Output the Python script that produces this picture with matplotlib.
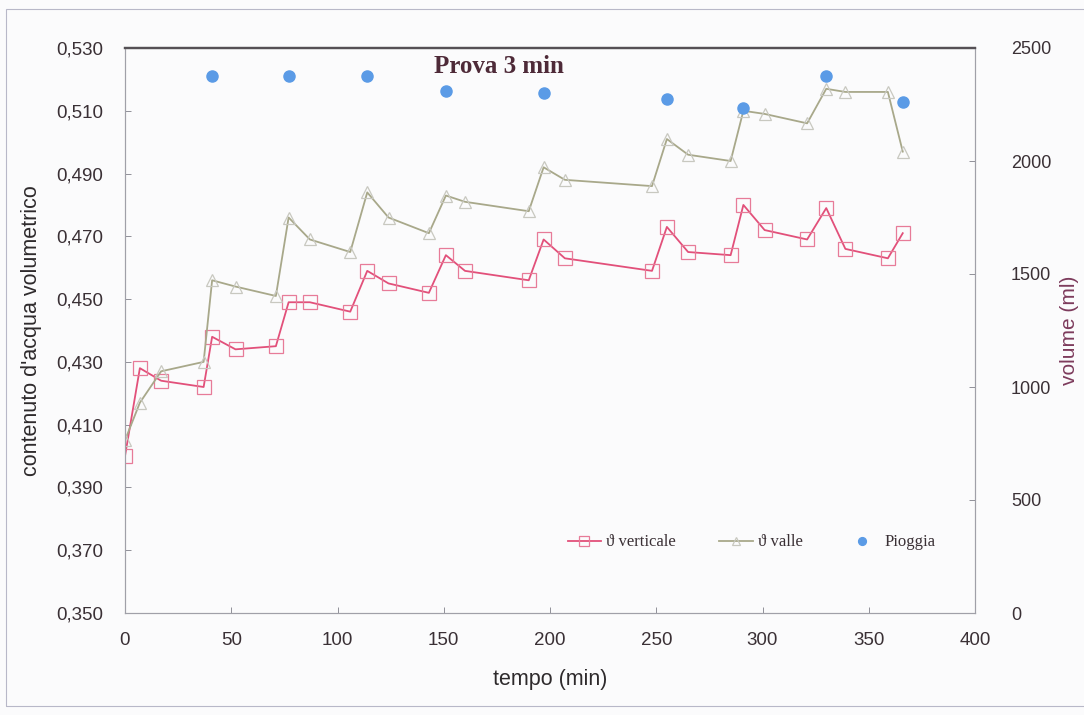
import matplotlib
matplotlib.use("Agg")
import matplotlib.pyplot as plt
from matplotlib.ticker import FuncFormatter
from matplotlib.patches import Rectangle

# ---- data ----
tempo = [0, 7, 17, 37, 41, 52, 71, 77, 87, 106, 114, 124, 143, 151, 160, 190,
         197, 207, 248, 255, 265, 285, 291, 301, 321, 330, 339, 359, 366]
theta_verticale = [0.400, 0.428, 0.424, 0.422, 0.438, 0.434, 0.435, 0.449, 0.449,
                   0.446, 0.459, 0.455, 0.452, 0.464, 0.459, 0.456, 0.469, 0.463,
                   0.459, 0.473, 0.465, 0.464, 0.480, 0.472, 0.469, 0.479, 0.466,
                   0.463, 0.471]
theta_valle = [0.405, 0.417, 0.427, 0.430, 0.456, 0.454, 0.451, 0.476, 0.469,
               0.465, 0.484, 0.476, 0.471, 0.483, 0.481, 0.478, 0.492, 0.488,
               0.486, 0.501, 0.496, 0.494, 0.510, 0.509, 0.506, 0.517, 0.516,
               0.516, 0.497]
tempo_pioggia = [41, 77, 114, 151, 197, 255, 291, 330, 366]
pioggia = [2375, 2375, 2375, 2310, 2300, 2275, 2235, 2375, 2260]

left_ticks = [0.350, 0.370, 0.390, 0.410, 0.430, 0.450, 0.470, 0.490, 0.510, 0.530]
right_ticks = [0, 500, 1000, 1500, 2000, 2500]
x_ticks = [0, 50, 100, 150, 200, 250, 300, 350, 400]

title = "Prova 3 min"
xlabel = "tempo (min)"
ylabel_left = "contenuto d'acqua volumetrico"
ylabel_right = "volume (ml)"
labels = ["\u03d1 verticale", "\u03d1 valle", "Pioggia"]

# ---- style ----
W, H = 1084, 715
fig = plt.figure(figsize=(W / 100, H / 100), dpi=100)
fig.patch.set_facecolor("#fbfbfc")
fig.patches.append(Rectangle((6 / W, 1 - 706 / H), (1100 - 6) / W, (706 - 9) / H,
                             transform=fig.transFigure, fill=False,
                             edgecolor="#b8b8c8", linewidth=0.8))

L, R, T, B = 125, 975, 48, 613
ax = fig.add_axes([L / W, 1 - B / H, (R - L) / W, (B - T) / H])
ax.set_facecolor("#fbfbfc")

tick_color = "#3a3035"
sans = ["Liberation Sans", "DejaVu Sans"]
serif = ["Liberation Serif", "DejaVu Serif"]

red = "#e2507a"
green = "#a8a88a"
blue = "#5b9be6"

l1, = ax.plot(tempo, theta_verticale, color=red, linewidth=1.3, marker="s",
              markersize=9.5, markerfacecolor="none", markeredgecolor="#e77b98",
              markeredgewidth=0.9, label=labels[0], zorder=3)
l2, = ax.plot(tempo, theta_valle, color=green, linewidth=1.3, marker="^",
              markersize=8.5, markerfacecolor="none", markeredgecolor="#c8c8c0",
              markeredgewidth=0.9, label=labels[1], zorder=3)

ax.set_xlim(0, 400)
ax.set_ylim(0.350, 0.530)
ax.set_xticks(x_ticks)
ax.set_yticks(left_ticks)
ax.yaxis.set_major_formatter(FuncFormatter(lambda v, p: f"{v:.3f}".replace(".", ",")))

ax2 = ax.twinx()
l3, = ax2.plot(tempo_pioggia, pioggia, linestyle="none", marker="o", markersize=8,
               color=blue, label=labels[2], zorder=4)
ax2.set_ylim(0, 2500)
ax2.set_yticks(right_ticks)

for a in (ax, ax2):
    for s in a.spines.values():
        s.set_color("#a0a0a8")
        s.set_linewidth(0.8)
    a.spines["top"].set_color("#555055")
    a.spines["top"].set_linewidth(1.6)
ax.spines["left"].set_linestyle((0, (1, 1)))
ax.spines["bottom"].set_linestyle((0, (1, 1)))

ax.tick_params(axis="both", direction="in", length=4, width=0.7, color="#909098",
               labelcolor=tick_color, labelsize=13.5)
ax.tick_params(axis="y", pad=16)
ax.tick_params(axis="x", pad=14)
ax2.tick_params(axis="y", direction="in", length=4, width=0.7, color="#909098",
                labelcolor=tick_color, labelsize=13, pad=26)
for lab in ax.get_xticklabels() + ax.get_yticklabels() + ax2.get_yticklabels():
    lab.set_fontfamily(sans)

ax.set_xlabel(xlabel, fontsize=15.5, color="#2e2a2c", family=sans, labelpad=14)
ax.set_ylabel(ylabel_left, fontsize=15.5, color="#2e2a2c", family=sans, labelpad=10)
ax2.set_ylabel(ylabel_right, fontsize=15, color="#7d3b5c", family=sans, labelpad=6)

ax.text(0.44, 0.967, title, transform=ax.transAxes, ha="center", va="center",
        fontsize=18, fontweight="bold", color="#4e2a38", family=serif)

leg = ax2.legend(handles=[l1, l2, l3], labels=labels, loc="center",
                 bbox_to_anchor=(0.737, 0.125), ncol=3, frameon=False,
                 prop={"family": serif, "size": 12}, handlelength=2.0,
                 handletextpad=0.3, columnspacing=2.6, markerscale=0.7)
for t in leg.get_texts():
    t.set_color("#3a3035")

fig.savefig("out.png", dpi=100, facecolor=fig.get_facecolor())
